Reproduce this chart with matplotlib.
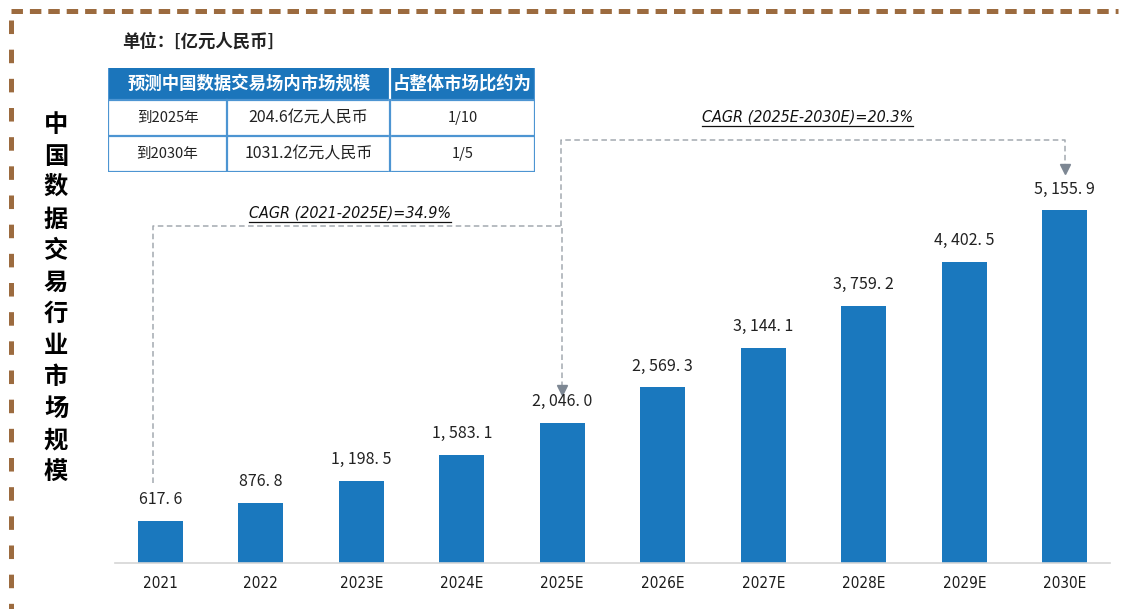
import matplotlib.pyplot as plt
from matplotlib.lines import Line2D
from matplotlib.patches import Rectangle

plt.rcParams['font.family'] = ['Noto Sans CJK SC', 'DejaVu Sans']
plt.rcParams['lines.scale_dashes'] = False

years = ["2021", "2022", "2023E", "2024E", "2025E", "2026E", "2027E", "2028E", "2029E", "2030E"]
values = [617.6, 876.8, 1198.5, 1583.1, 2046.0, 2569.3, 3144.1, 3759.2, 4402.5, 5155.9]

title = "中国数据交易行业市场规模"
unit_text = "单位：[亿元人民币]"
cagr1 = "CAGR (2021-2025E)=34.9%"
cagr2 = "CAGR (2025E-2030E)=20.3%"

table_header = ["预测中国数据交易场内市场规模", "占整体市场比约为"]
table_rows = [["到2025年", "204.6亿元人民币", "1/10"],
              ["到2030年", "1031.2亿元人民币", "1/5"]]

W, H = 1122, 609
bar_color = '#1a78be'
brown = '#9c6b3f'
gray_line = '#a3a9b0'
narrow = ['Liberation Sans Narrow', 'DejaVu Sans']

fig = plt.figure(figsize=(W / 100, H / 100), dpi=100)
fig.patch.set_facecolor('white')


def fx(px):
    return px / W


def fy(py):
    return 1 - py / H


# brown dashed border (top and left)
fig.add_artist(Line2D([fx(11), fx(1118)], [fy(10.5), fy(10.5)], color=brown, lw=3.6,
                      dashes=(8.25, 5.0), solid_capstyle='butt', dash_capstyle='butt'))
fig.add_artist(Line2D([fx(10.5), fx(10.5)], [fy(20), fy(609)], color=brown, lw=3.6,
                      dashes=(9.75, 11.25), solid_capstyle='butt', dash_capstyle='butt'))

# vertical title
for i, ch in enumerate(title):
    fig.text(fx(56), fy(125 + i * 31.5), ch, fontsize=17.5, fontweight='bold',
             ha='center', va='center', color='black')

# main bar chart
ax = fig.add_axes([fx(115), fy(563), fx(1110) - fx(115), fy(30) - fy(563)])
x = list(range(len(years)))
ax.bar(x, values, width=0.45, color=bar_color)
ax.set_xlim(-0.45, 9.45)
ax.set_ylim(0, 7785)
ax.set_xticks(x)
ax.set_xticklabels(years, fontsize=11, family=narrow, fontstretch='condensed', color='#1a1a1a')
ax.tick_params(axis='x', length=0, pad=9)
ax.set_yticks([])
for s in ['top', 'left', 'right']:
    ax.spines[s].set_visible(False)
ax.spines['bottom'].set_color('#d5d5d5')
ax.spines['bottom'].set_linewidth(1.2)

for xi, v in zip(x, values):
    ax.annotate(f"{v:,.1f}".replace(",", ", ").replace(".", ". "), (xi, v),
                xytext=(0, 9), textcoords='offset points', ha='center', va='bottom',
                fontsize=11.5, color='#222222')

# CAGR brackets
ax.plot([-0.07, -0.07, 4.0, 4.0], [1168, 4922, 4922, 2560], color=gray_line, lw=1.1,
        ls=(0, (4, 2.5)))
ax.plot([4.0], [2520], marker='v', color='#7d8793', ms=7, ls='none')
ax.plot([3.99, 3.99, 9.0, 9.0], [4922, 6178, 6178, 5800], color=gray_line, lw=1.1,
        ls=(0, (4, 2.5)))
ax.plot([9.0], [5760], marker='v', color='#7d8793', ms=7, ls='none')

t1 = ax.text(1.89, 5110, cagr1, fontsize=11.5, style='italic', family=narrow,
             fontstretch='condensed', ha='center', va='center', color='#111111')
t2 = ax.text(6.44, 6512, cagr2, fontsize=11.5, style='italic', family=narrow,
             fontstretch='condensed', ha='center', va='center', color='#111111')

fig.canvas.draw()
r = fig.canvas.get_renderer()
for t in (t1, t2):
    bb = t.get_window_extent(r)
    y0 = bb.y0 - 1
    fig.add_artist(Line2D([bb.x0 / W, bb.x1 / W], [y0 / H, y0 / H], color='#111111', lw=0.9))

# unit label
fig.text(fx(122), fy(42), unit_text, fontsize=12.5, fontweight='bold', ha='left', va='center',
         color='#222222')

# table
tax = fig.add_axes([fx(108), fy(172), fx(535) - fx(108), fy(68) - fy(172)])
tax.set_xlim(0, 427)
tax.set_ylim(104, 0)
tax.axis('off')
col_edges = [0, 119, 282, 427]
row_edges = [0, 32, 68, 104]
tbl_blue = '#1b75bb'
border = '#4d95d2'
tax.add_patch(Rectangle((0, 0), 427, 32, facecolor=tbl_blue, edgecolor='none'))
for ye in row_edges[1:]:
    tax.plot([0, 427], [ye, ye], color=border, lw=1.6)
tax.plot([0, 0], [0, 104], color=border, lw=1.6)
tax.plot([427, 427], [0, 104], color=border, lw=1.6)
tax.plot([282, 282], [0, 104], color='white', lw=1.6)
tax.plot([282, 282], [32, 104], color=border, lw=1.6)
tax.plot([119, 119], [32, 104], color=border, lw=1.6)
tax.text(141, 16, table_header[0], color='white', fontsize=12.5, fontweight='bold',
         ha='center', va='center')
tax.text(354.5, 16, table_header[1], color='white', fontsize=12.5, fontweight='bold',
         ha='center', va='center')
for ri, row in enumerate(table_rows):
    yc = (row_edges[ri + 1] + row_edges[ri + 2]) / 2
    for ci, cell in enumerate(row):
        xc = (col_edges[ci] + col_edges[ci + 1]) / 2
        fs = 11.5 if ci == 1 else 10.5
        tax.text(xc, yc, cell, fontsize=fs, ha='center', va='center', color='#222222')

fig.savefig("out.png", dpi=100)
